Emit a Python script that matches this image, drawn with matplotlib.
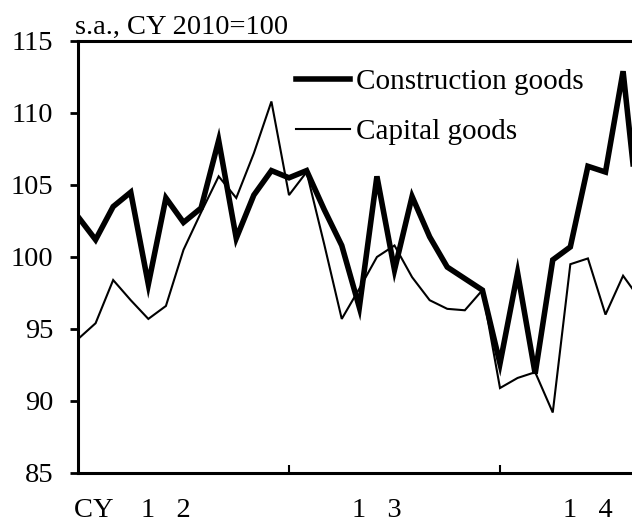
import matplotlib
matplotlib.use("Agg")
import matplotlib.pyplot as plt
import numpy as np

plt.rcParams["font.family"] = ["Liberation Serif", "DejaVu Serif"]

# Monthly index, s.a., CY2010 = 100 (Jan 2012 onward)
construction_goods = [102.8, 101.2, 103.5, 104.5, 98.1, 104.1, 102.4, 103.4, 108.1, 101.3,
                      104.3, 106.0, 105.5, 106.0, 103.3, 100.8, 96.5, 105.6, 99.1, 104.2,
                      101.4, 99.3, 98.5, 97.7, 92.6, 98.9, 91.9, 99.8, 100.7, 106.3,
                      105.9, 112.9, 101.5]
capital_goods = [94.3, 95.4, 98.4, 97.0, 95.7, 96.6, 100.5, 103.1, 105.6, 104.1,
                 107.2, 110.8, 104.3, 105.9, 100.9, 95.7, 97.8, 100.0, 100.8, 98.6,
                 97.0, 96.4, 96.3, 97.7, 90.9, 91.6, 92.0, 89.2, 99.5, 99.9,
                 96.0, 98.7, 97.0]
year_labels = ["CY    1   2", "1   3", "1   4"]
y_ticks = [85, 90, 95, 100, 105, 110, 115]

FS = 20.5
months = np.arange(len(construction_goods))

fig = plt.figure(figsize=(6.32, 5.24), dpi=100)
# Axes run past the right edge of the canvas (through the end of 2014)
ax = fig.add_axes([78 / 632, 51 / 524, 633 / 632, 432 / 524])

ax.plot(months, construction_goods, color="black", lw=4.0, solid_joinstyle="miter",
        label="Construction goods", zorder=3)
ax.plot(months, capital_goods, color="black", lw=1.5, solid_joinstyle="miter",
        label="Capital goods", zorder=2)

ax.set_xlim(0, 36)
ax.set_ylim(85, 115)
ax.set_yticks(y_ticks)
ax.set_xticks([12, 24])
ax.set_xticklabels([])
ax.tick_params(axis="y", direction="out", length=6, width=2, labelsize=FS, pad=12)
ax.tick_params(axis="x", direction="in", length=6, width=1.5)
for s in ax.spines.values():
    s.set_linewidth(2.2)

# Year labels under each 12-month block
for k, lab in enumerate(year_labels):
    ax.text(6.4 + 12 * k, -0.102, lab, transform=ax.get_xaxis_transform(),
            ha="right", va="baseline", fontsize=FS)

ax.text(-0.15, 1.003, "s.a., CY 2010=100", transform=ax.get_xaxis_transform(),
        ha="left", va="bottom", fontsize=FS)

leg = ax.legend(loc="upper left", bbox_to_anchor=(296 / 632, 1 - 69 / 524),
                bbox_transform=fig.transFigure, frameon=False, fontsize=21,
                handlelength=1.85, handletextpad=0.2, labelspacing=0.8,
                borderaxespad=0, borderpad=0)

fig.savefig("out.png", dpi=100)
